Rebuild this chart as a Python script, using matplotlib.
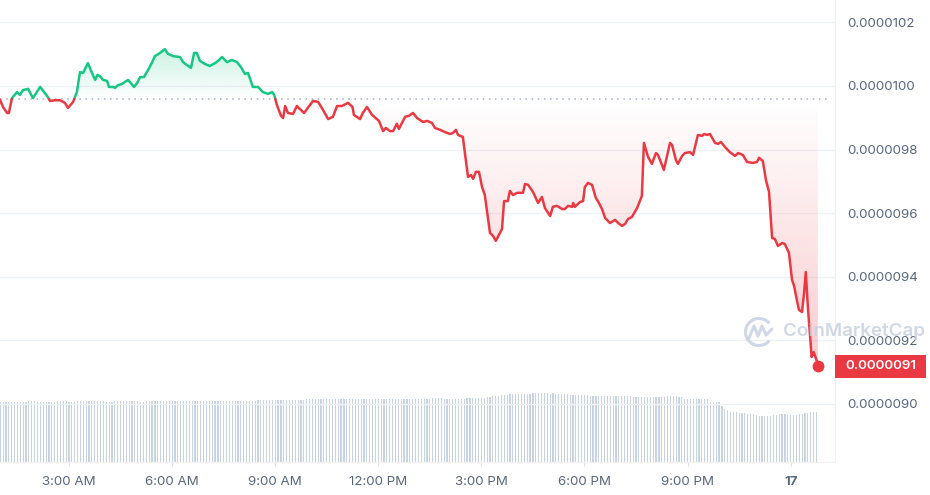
import numpy as np
import matplotlib
matplotlib.use("Agg")
import matplotlib.pyplot as plt
import matplotlib.transforms as mtransforms
from matplotlib.colors import to_rgb
from matplotlib.path import Path
from matplotlib.patches import Rectangle, Arc
from matplotlib.lines import Line2D
from matplotlib.ticker import FuncFormatter

plt.rcParams['font.family'] = ['Inter', 'DejaVu Sans']

# time in hours since 00:00 of the 16th, price in units of 1e-7 USD
hours = [0.99, 1.08, 1.20, 1.25, 1.34, 1.49, 1.57, 1.66, 1.81, 1.95,
         2.16, 2.36, 2.45, 2.59, 2.74, 2.88, 2.97, 3.12, 3.23, 3.32,
         3.41, 3.55, 3.67, 3.76, 3.83, 3.90, 3.99, 4.11, 4.16, 4.28,
         4.34, 4.43, 4.54, 4.63, 4.72, 4.80, 4.89, 4.98, 5.07, 5.18,
         5.30, 5.42, 5.50, 5.65, 5.79, 5.88, 6.03, 6.23, 6.32, 6.43,
         6.55, 6.64, 6.72, 6.81, 6.96, 7.10, 7.25, 7.34, 7.45, 7.60,
         7.74, 7.89, 8.00, 8.12, 8.21, 8.35, 8.50, 8.64, 8.79, 8.91,
         8.97, 9.05, 9.17, 9.23, 9.29, 9.37, 9.52, 9.63, 9.84, 10.10,
         10.25, 10.39, 10.54, 10.68, 10.80, 10.94, 11.12, 11.25, 11.29, 11.47,
         11.55, 11.67, 11.82, 11.96, 12.02, 12.14, 12.22, 12.34, 12.43, 12.54,
         12.60, 12.78, 12.89, 13.01, 13.13, 13.30, 13.42, 13.56, 13.65, 13.80,
         13.94, 14.09, 14.17, 14.26, 14.32, 14.46, 14.61, 14.70, 14.76, 14.84,
         14.93, 15.02, 15.10, 15.25, 15.34, 15.42, 15.60, 15.66, 15.77, 15.83,
         15.92, 16.04, 16.21, 16.27, 16.36, 16.50, 16.65, 16.76, 16.85, 17.00,
         17.08, 17.20, 17.35, 17.43, 17.52, 17.64, 17.67, 17.72, 17.87, 17.96,
         18.01, 18.10, 18.22, 18.33, 18.42, 18.51, 18.60, 18.74, 18.89, 18.98,
         19.09, 19.18, 19.27, 19.38, 19.53, 19.67, 19.73, 19.85, 19.96, 20.08,
         20.14, 20.31, 20.49, 20.55, 20.66, 20.72, 20.84, 20.92, 21.07, 21.16,
         21.30, 21.42, 21.48, 21.56, 21.65, 21.80, 21.89, 21.97, 22.09, 22.23,
         22.38, 22.47, 22.61, 22.73, 22.90, 23.02, 23.08, 23.19, 23.28, 23.37,
         23.46, 23.54, 23.63, 23.75, 23.83, 23.95, 24.04, 24.10, 24.18, 24.24,
         24.33, 24.39, 24.44, 24.50, 24.61, 24.67, 24.76, 24.79]
price_e7 = [99.57, 99.34, 99.15, 99.15, 99.62, 99.81, 99.72, 99.87, 99.91, 99.62,
            99.97, 99.69, 99.53, 99.55, 99.55, 99.47, 99.31, 99.50, 99.81, 100.44,
            100.41, 100.72, 100.41, 100.19, 100.35, 100.31, 100.19, 100.16, 99.97, 99.97,
            99.94, 100.03, 100.06, 100.13, 100.19, 100.09, 99.97, 100.09, 100.28, 100.28,
            100.50, 100.75, 100.94, 101.04, 101.16, 101.01, 100.94, 100.91, 100.75, 100.66,
            100.57, 101.04, 101.04, 100.79, 100.69, 100.63, 100.72, 100.79, 100.91, 100.75,
            100.82, 100.75, 100.60, 100.38, 100.41, 99.97, 99.97, 99.81, 99.75, 99.81,
            99.72, 99.40, 99.06, 98.99, 99.37, 99.15, 99.12, 99.37, 99.15, 99.53,
            99.50, 99.25, 98.96, 99.03, 99.37, 99.37, 99.47, 99.34, 99.09, 98.96,
            99.15, 99.34, 99.09, 98.96, 98.90, 98.58, 98.68, 98.58, 98.58, 98.81,
            98.65, 99.03, 99.06, 99.15, 98.99, 98.87, 98.90, 98.84, 98.68, 98.62,
            98.55, 98.49, 98.52, 98.62, 98.46, 98.40, 97.14, 97.20, 97.08, 97.30,
            97.30, 96.82, 96.57, 95.38, 95.28, 95.13, 95.50, 96.38, 96.38, 96.70,
            96.57, 96.64, 96.64, 96.92, 96.89, 96.67, 96.32, 96.51, 96.16, 95.91,
            96.20, 96.23, 96.13, 96.13, 96.23, 96.20, 96.32, 96.20, 96.35, 96.38,
            96.82, 96.95, 96.89, 96.48, 96.32, 96.13, 95.85, 95.69, 95.79, 95.69,
            95.60, 95.66, 95.82, 95.88, 96.16, 96.54, 98.21, 97.77, 97.55, 97.89,
            97.83, 97.36, 98.21, 98.14, 97.67, 97.55, 97.80, 97.89, 97.92, 97.83,
            98.46, 98.43, 98.49, 98.46, 98.49, 98.21, 98.18, 98.24, 98.08, 97.92,
            97.80, 97.89, 97.83, 97.61, 97.58, 97.61, 97.74, 97.64, 97.04, 96.67,
            95.22, 95.19, 94.97, 95.06, 95.03, 94.75, 93.90, 93.71, 93.27, 92.96,
            92.89, 93.49, 94.15, 93.05, 91.48, 91.63, 91.35, 91.19]
open_e7 = 99.59

# volume, one bar every 5 minutes from 01:00 (rows = one hour)
volume = [
    59.7, 59.7, 59.7, 59.7, 59.7, 59.7, 59.7, 59.7, 59.7, 59.7, 61.0, 61.0,
    61.0, 59.7, 59.7, 59.7, 59.7, 59.7, 59.7, 59.7, 61.0, 61.0, 61.0, 61.0,
    59.7, 59.7, 59.7, 61.0, 61.0, 61.0, 61.0, 61.0, 61.0, 61.0, 61.0, 61.0,
    61.0, 59.7, 59.7, 59.7, 60.7, 60.7, 60.7, 60.7, 60.7, 60.7, 60.7, 60.7,
    60.7, 59.7, 59.7, 61.0, 61.0, 61.0, 61.0, 61.0, 61.0, 61.0, 61.0, 61.0,
    61.0, 61.0, 61.0, 61.0, 61.0, 61.0, 61.0, 61.0, 61.0, 61.0, 61.0, 61.0,
    61.0, 61.0, 61.0, 61.0, 61.0, 61.0, 61.0, 61.0, 61.0, 61.0, 61.0, 61.0,
    61.0, 61.0, 61.0, 61.0, 61.0, 61.0, 62.0, 62.0, 62.0, 62.0, 62.0, 62.0,
    62.0, 62.0, 62.0, 62.0, 61.7, 61.7, 61.7, 61.7, 61.7, 61.7, 61.7, 62.7,
    62.7, 62.7, 62.7, 62.7, 62.7, 62.7, 62.7, 62.7, 62.7, 62.7, 62.7, 62.7,
    62.7, 62.7, 62.7, 62.7, 62.7, 62.7, 62.7, 62.7, 62.7, 62.7, 62.7, 62.7,
    62.7, 62.7, 62.7, 62.7, 62.7, 62.7, 62.7, 62.7, 62.7, 62.7, 62.7, 62.7,
    62.7, 62.7, 62.7, 62.7, 62.7, 62.7, 62.7, 63.7, 63.7, 63.7, 63.7, 62.7,
    62.7, 62.7, 62.7, 62.7, 62.7, 62.7, 62.7, 63.7, 63.7, 63.7, 63.7, 63.7,
    63.7, 63.7, 64.7, 64.7, 65.7, 65.7, 65.7, 66.7, 66.7, 66.7, 67.7, 67.7,
    67.7, 67.7, 67.7, 67.7, 67.7, 67.7, 68.7, 68.7, 68.7, 68.7, 68.7, 68.7,
    67.7, 68.7, 67.7, 67.7, 67.7, 67.7, 67.7, 66.7, 66.7, 66.7, 66.7, 66.7,
    66.7, 66.7, 65.7, 65.7, 65.7, 65.7, 65.7, 65.7, 65.7, 65.7, 65.7, 65.7,
    65.7, 65.7, 65.7, 65.7, 65.7, 64.7, 64.7, 64.7, 64.7, 64.5, 64.5, 64.5,
    64.5, 64.5, 64.5, 64.5, 64.5, 65.7, 65.7, 65.7, 65.7, 64.5, 64.5, 62.7,
    62.7, 62.7, 62.7, 62.7, 62.7, 62.7, 62.7, 62.7, 59.7, 59.7, 59.7, 59.7,
    56.3, 53.0, 51.7, 49.7, 49.7, 49.7, 48.7, 48.7, 48.7, 47.7, 47.7, 47.7,
    46.5, 45.7, 45.7, 45.7, 45.7, 45.7, 46.7, 46.7, 47.7, 47.7, 47.7, 47.0,
    47.0, 47.0, 47.0, 47.7, 47.7, 48.7, 48.7, 49.7, 49.7, 49.7,
]
vol_hours = 1 + np.arange(len(volume)) / 12

tick_hours = [3, 6, 9, 12, 15, 18, 21, 24]
tick_labels = ['3:00 AM', '6:00 AM', '9:00 AM', '12:00 PM', '3:00 PM', '6:00 PM', '9:00 PM', '17']
price_ticks = [90, 92, 94, 96, 98, 100, 102]

GREEN = '#16c784'
RED = '#ea3943'
GREY = '#58667e'
GRID = '#eff2f5'


def gradient_fill(ax, x, y, base, color, above, alpha_max):
    x = np.asarray(x)
    y = np.asarray(y)
    where = y >= base if above else y <= base
    coll = ax.fill_between(x, y, base, where=where, interpolate=True,
                           facecolor='none', edgecolor='none')
    clip = Path.make_compound_path(*coll.get_paths())
    lo, hi = (base, y.max()) if above else (y.min(), base)
    img = np.zeros((256, 1, 4))
    img[..., :3] = to_rgb(color)
    if above:
        img[:, 0, 3] = np.linspace(0, alpha_max, 256)
    else:
        img[:, 0, 3] = np.linspace(alpha_max, 0, 256)
    im = ax.imshow(img, extent=[x.min(), x.max(), lo, hi], origin='lower',
                   aspect='auto', zorder=1, interpolation='bilinear')
    im.set_clip_path(clip, transform=ax.transData)


fig = plt.figure(figsize=(9.3, 4.95), dpi=100)
rect = [0, 33 / 495, 835 / 930, 462 / 495]
axv = fig.add_axes(rect)
ax = fig.add_axes(rect, sharex=axv)
ax.patch.set_alpha(0)

# volume bars
axv.bar(vol_hours, volume, width=0.034, color='#c9d3e6', linewidth=0)
axv.set_ylim(0, max(volume) * 6.72)
for s in axv.spines.values():
    s.set_visible(False)
axv.set_yticks([])
axv.tick_params(axis='x', length=0, labelbottom=False)

# split the line at the opening price
t = np.asarray(hours)
p = np.asarray(price_e7)
xs, ys = [t[0]], [p[0]]
for i in range(1, len(t)):
    if (p[i - 1] - open_e7) * (p[i] - open_e7) < 0:
        f = (open_e7 - p[i - 1]) / (p[i] - p[i - 1])
        xs.append(t[i - 1] + f * (t[i] - t[i - 1]))
        ys.append(open_e7)
    xs.append(t[i])
    ys.append(p[i])
xs = np.array(xs)
ys = np.array(ys)

gradient_fill(ax, xs, ys, open_e7, GREEN, True, 0.22)
gradient_fill(ax, xs, ys, open_e7, RED, False, 0.26)

ax.plot(xs, np.where(ys >= open_e7, ys, np.nan), color=GREEN, lw=1.8,
        solid_joinstyle='round', solid_capstyle='round', zorder=3)
ax.plot(xs, np.where(ys <= open_e7, ys, np.nan), color=RED, lw=1.8,
        solid_joinstyle='round', solid_capstyle='round', zorder=3)
ax.plot(t[-1], p[-1], 'o', ms=7.5, color=RED, zorder=4)
ax.axhline(open_e7, color='#a7b1c2', lw=1.1, ls=(0, (1, 3)), xmax=0.995, zorder=2)

ax.set_xlim(0.992, 25.29)
ax.set_ylim(88.175, 102.704)
ax.set_xticks(tick_hours)
ax.set_xticklabels(tick_labels)
ax.get_xticklabels()[-1].set_fontweight('bold')
ax.yaxis.tick_right()
ax.set_yticks(price_ticks)
ax.yaxis.set_major_formatter(FuncFormatter(lambda v, _: f"{v / 1e7:.7f}"))
ax.tick_params(axis='y', length=0, pad=8.6, labelsize=9.6, labelcolor=GREY)
ax.tick_params(axis='x', length=3, color='#dde2ea', pad=7, labelsize=9.6, labelcolor=GREY)
ax.grid(axis='y', color=GRID, lw=1)
ax.set_axisbelow(True)
ax.spines['top'].set_visible(False)
ax.spines['left'].set_visible(False)
ax.spines['right'].set_color('#eceff3')
ax.spines['bottom'].set_color('#f1f3f6')

# last price tag
trans = mtransforms.blended_transform_factory(ax.transAxes, ax.transData)
last = price_e7[-1]
ax.add_patch(Rectangle((1.0, last - 0.36), 0.109, 0.72, transform=trans,
                       facecolor=RED, edgecolor='none', clip_on=False, zorder=5))
ax.text(1.0545, last, f"{last / 1e7:.7f}", transform=trans, ha='center', va='center',
        color='white', fontsize=9.6, fontweight='semibold', zorder=6, clip_on=False)

# watermark
wm = '#c5cee0'
fig.add_artist(Arc((7.59, 1.63), 0.27, 0.27, theta1=40, theta2=320, lw=2.2,
                   color=wm, alpha=0.8, transform=fig.dpi_scale_trans))
fig.add_artist(Line2D([7.49, 7.54, 7.58, 7.62, 7.66, 7.72], [1.57, 1.69, 1.59, 1.69, 1.60, 1.66],
                      lw=2.2, color=wm, alpha=0.8, transform=fig.dpi_scale_trans,
                      solid_joinstyle='round', solid_capstyle='round'))
fig.text(783 / 930, 1 - 331 / 495, 'CoinMarketCap', color=wm, alpha=0.8,
         fontsize=13.5, fontweight='semibold', va='center', ha='left')

fig.savefig('out.png', dpi=100)
